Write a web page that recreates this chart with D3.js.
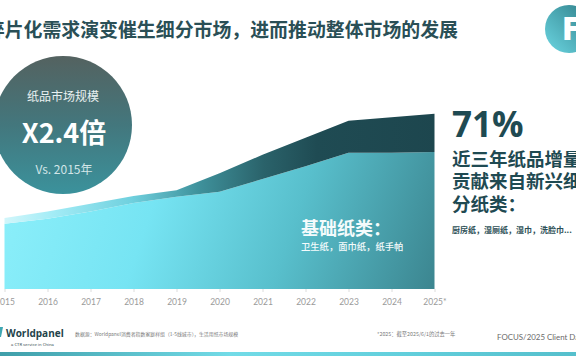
<!DOCTYPE html>
<html><head><meta charset="utf-8">
<script src="https://cdn.jsdelivr.net/npm/d3@7"></script>
<style>
html,body{margin:0;padding:0;background:#fff;overflow:hidden;}
svg{display:block;}
text{font-family:"Noto Sans CJK SC","Noto Sans",sans-serif;}
</style></head><body>
<svg id="c" width="576" height="356"></svg>
<script>
// ---- data (index, 2015 total = 100) ----
const years = ["2015","2016","2017","2018","2019","2020","2021","2022","2023","2024","2025"];
const yearLabels = ["2015","2016","2017","2018","2019","2020","2021","2022","2023","2024","2025*"];
const basicPaper = [92, 99, 109, 121, 130, 137, 155, 173, 192, 192, 193];
const emergingPaper = [8, 10, 11, 10, 9, 26, 34, 40, 45, 50, 54];
const seriesKeys = ["basic","emerging"];

const svg = d3.select("#c");
const defs = svg.append("defs");

function lin(id, x1,y1,x2,y2, stops, user){
  const g = defs.append("linearGradient").attr("id",id)
    .attr("x1",x1).attr("y1",y1).attr("x2",x2).attr("y2",y2);
  if(user) g.attr("gradientUnits","userSpaceOnUse");
  stops.forEach(s=>g.append("stop").attr("offset",s[0]).attr("stop-color",s[1]));
}
lin("gBase",0,150,440,300,[[0,"#8ef0fb"],[0.35,"#76e4f3"],[0.65,"#58bfcc"],[1,"#3a828c"]],true);
lin("gTop",0,0,440,0,[[0,"#d6f7fb"],[0.12,"#a3ecf6"],[0.3,"#6fd0de"],[0.45,"#3f929c"],[0.6,"#2a626a"],[0.72,"#1f4b53"],[1,"#1d464e"]],true);
lin("gCircle",0,0,0,1,[[0,"#546260"],[0.5,"#43777d"],[1,"#3b929c"]]);
lin("gLogo",1,0,0,1,[[0,"#2f7e88"],[1,"#6bd6e2"]]);
lin("gStrip",0,0,1,0,[[0,"#3f9ea9"],[0.4,"#72dbe7"],[0.7,"#62cfdc"],[1,"#55bfcc"]]);

// ---- scales ----
const x = d3.scalePoint().domain(years).range([4.5, 434.5]);
const y = d3.scaleLinear().domain([0, 250]).range([289, 111.5]);

const rows = years.map((yr,i)=>({year:yr, basic:basicPaper[i], emerging:emergingPaper[i]}));
const stacked = d3.stack().keys(seriesKeys)(rows);

const area = d3.area()
  .x(d=>x(d.data.year))
  .y0(d=>y(d[0]))
  .y1(d=>y(d[1]));

svg.append("g").selectAll("path").data(stacked).join("path")
  .attr("d",area)
  .attr("fill",(d,i)=> i===0 ? "url(#gBase)" : "url(#gTop)");

// ---- axis ----
const ax = svg.append("g").attr("transform","translate(0,289)")
  .call(d3.axisBottom(x).tickSize(3).tickPadding(7).tickFormat((d,i)=>yearLabels[i]));
ax.select(".domain").remove();
ax.selectAll("line").attr("stroke","#dcdcdc");
ax.selectAll("text").attr("fill","#9a9a9a").style("font-family","Lato,'Noto Sans',sans-serif").style("font-size","8.5px");

// ---- title ----
svg.append("text").attr("x",458).attr("y",37).attr("text-anchor","end")
  .attr("fill","#2a4f56").style("font-size","18.9px").style("font-weight","700")
  .text("碎片化需求演变催生细分市场，进而推动整体市场的发展");

// logo
svg.append("circle").attr("cx",569).attr("cy",29).attr("r",24).attr("fill","url(#gLogo)");
svg.append("text").attr("x",562).attr("y",40).attr("fill","#fff")
  .style("font-family","'Open Sans','Noto Sans',sans-serif").style("font-size","31px").style("font-weight","800").text("F");

// ---- circle callout ----
svg.append("circle").attr("cx",63).attr("cy",125).attr("r",69).attr("fill","url(#gCircle)");
svg.append("text").attr("x",63).attr("y",101).attr("text-anchor","middle").attr("fill","#e9f1f1")
  .style("font-size","12px").text("纸品市场规模");
svg.append("text").attr("x",64).attr("y",143).attr("text-anchor","middle").attr("fill","#ffffff")
  .style("font-size","27px").style("font-weight","700").text("X2.4倍");
svg.append("text").attr("x",64).attr("y",174).attr("text-anchor","middle").attr("fill","#d3e6e8")
  .style("font-size","12px").text("Vs. 2015年");

// ---- base label ----
svg.append("text").attr("x",301).attr("y",235).attr("fill","#f4fbfc")
  .style("font-size","18px").style("font-weight","700").text("基础纸类：");
svg.append("text").attr("x",301).attr("y",249.5).attr("fill","#f4fbfc")
  .style("font-size","9.3px").style("font-weight","500").text("卫生纸，面巾纸，纸手帕");

// ---- right text ----
svg.append("text").attr("x",452).attr("y",137).attr("fill","#1f4a52")
  .style("font-family","'Open Sans','Noto Sans',sans-serif").style("font-size","35px").style("font-weight","700").text("71%");
const rt = ["近三年纸品增量","贡献来自新兴细","分纸类："];
svg.append("g").selectAll("text").data(rt).join("text")
  .attr("x",452).attr("y",(d,i)=>165.5+i*22.5).attr("fill","#1f4a52")
  .style("font-size","18.5px").style("font-weight","700").text(d=>d);
svg.append("text").attr("x",452).attr("y",233).attr("fill","#2c4f56")
  .style("font-size","8px").style("font-weight","700").text("厨房纸，湿厕纸，湿巾，洗脸巾...");

// ---- footer ----
svg.append("path").attr("d","M0,327 L3,327 L1,337 L-2,337 Z").attr("fill","#3fa7b3");
svg.append("text").attr("x",6).attr("y",337).attr("fill","#23434a")
  .style("font-family","'Open Sans','Noto Sans',sans-serif").style("font-size","10px").style("font-weight","700").text("Worldpanel");
svg.append("text").attr("x",11).attr("y",345.5).attr("fill","#3a4f55")
  .style("font-family","'Noto Sans',sans-serif").style("font-size","4.2px").text("a CTR service in China");
svg.append("text").attr("x",75).attr("y",336).attr("fill","#7a7a7a")
  .style("font-size","4.9px").text("数据源：Worldpanel消费者指数家庭样组（1-5线城市），生活用纸市场规模");
svg.append("text").attr("x",377).attr("y",336).attr("fill","#7a7a7a")
  .style("font-size","5.3px").text("*2025：截至2025/6/1的过去一年");
svg.append("text").attr("x",497).attr("y",340).attr("fill","#6a6a6a")
  .style("font-family","Lato,'Noto Sans',sans-serif").style("font-size","7.9px").text("FOCUS/2025 Client Data");
svg.append("rect").attr("x",0).attr("y",352).attr("width",576).attr("height",4).attr("fill","url(#gStrip)");
</script></body></html>
